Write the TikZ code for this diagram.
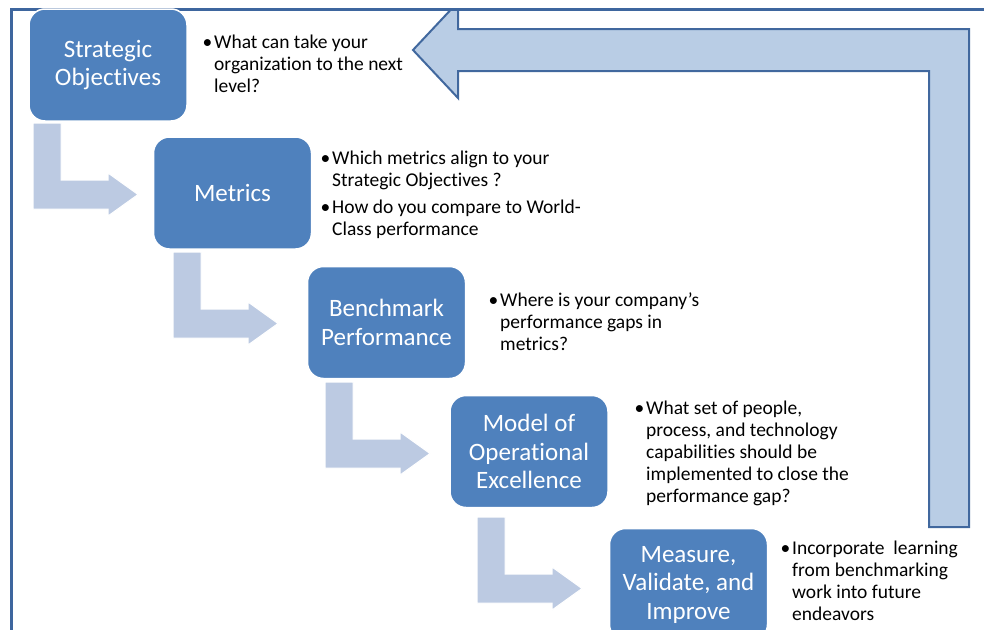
\documentclass[tikz,border=0pt]{standalone}
\usepackage{fontspec}
\setmainfont{Carlito}[Ligatures=NoCommon]
\definecolor{boxblue}{RGB}{79,129,189}
\definecolor{stepfill}{RGB}{188,202,226}
\definecolor{retfill}{RGB}{185,205,229}
\definecolor{retline}{RGB}{65,104,158}
\definecolor{framecol}{RGB}{62,102,158}
\newcommand\nl{\unskip\break}
\newcommand\bitem[1]{\parbox[t]{300pt}{\raggedright\hangindent=12pt\hangafter=1\noindent\makebox[12pt][l]{\hspace{0.5pt}\textbullet}#1}}
\begin{document}
\begin{tikzpicture}[x=1pt,y=-1pt,
  stage/.style={draw=white, line width=1.5pt, fill=boxblue, rounded corners=16pt,
    minimum width=158pt, minimum height=112pt, text=white, align=center,
    font=\fontsize{25}{28.5}\selectfont, inner sep=0pt},
  note/.style={anchor=base west, inner sep=0pt, font=\fontsize{19.5}{22}\selectfont},
  bentarrow/.pic={\path[fill=stepfill, draw=white, line width=1pt]
    (0,0) -- (28,0) -- (28,57) -- (75,57) -- (75,50) -- (105,71.5) -- (75,93) -- (75,86) -- (0,86) -- cycle;}
]
\clip (0,0) rectangle (984,629);
\fill[white] (0,0) rectangle (984,629);

% return arrow
\path[fill=retfill, draw=retline, line width=2pt, line join=miter]
  (929,527) -- (969,527) -- (969,29) -- (458,29) -- (458,2) -- (413,50) -- (458,98) -- (458,71) -- (929,71) -- cycle;
\fill[white] (0,0) rectangle (984,8);
\draw[framecol, line width=3pt] (11,640) -- (11,9.5) -- (990,9.5);

% stages
\node[stage] (s1) at (108,65) {Strategic\\Objectives};
\node[stage] (s2) at (232.5,193) {Metrics};
\node[stage] (s3) at (386.5,322.5) {Benchmark\\Performance};
\node[stage] (s4) at (529,451.5) {Model of\\Operational\\Excellence};
\node[stage] (s5) at (688.5,584.5) {Measure,\\Validate, and\\Improve};

% step arrows
\pic at (33,123) {bentarrow};
\pic at (173,252) {bentarrow};
\pic at (325,382) {bentarrow};
\pic at (477,517) {bentarrow};

% notes
\node[note] (n1) at (202,48) {\bitem{What can take your\nl organization to the next\nl level?}};
\node[note] (n2a) at (320,164) {\bitem{Which metrics align to your\nl Strategic Objectives ?}};
\node[note] (n2b) at (320,213) {\bitem{How do you compare to World-\nl Class performance}};
\node[note] (n3) at (488,306) {\bitem{Where is your company’s\nl performance gaps in\nl metrics?}};
\node[note] (n4) at (634,414) {\bitem{What set of people,\nl process, and technology\nl capabilities should be\nl implemented to close the\nl performance gap?}};
\node[note] (n5) at (780,554) {\bitem{Incorporate\ \ learning\nl from benchmarking\nl work into future\nl endeavors}};
\end{tikzpicture}
\end{document}
